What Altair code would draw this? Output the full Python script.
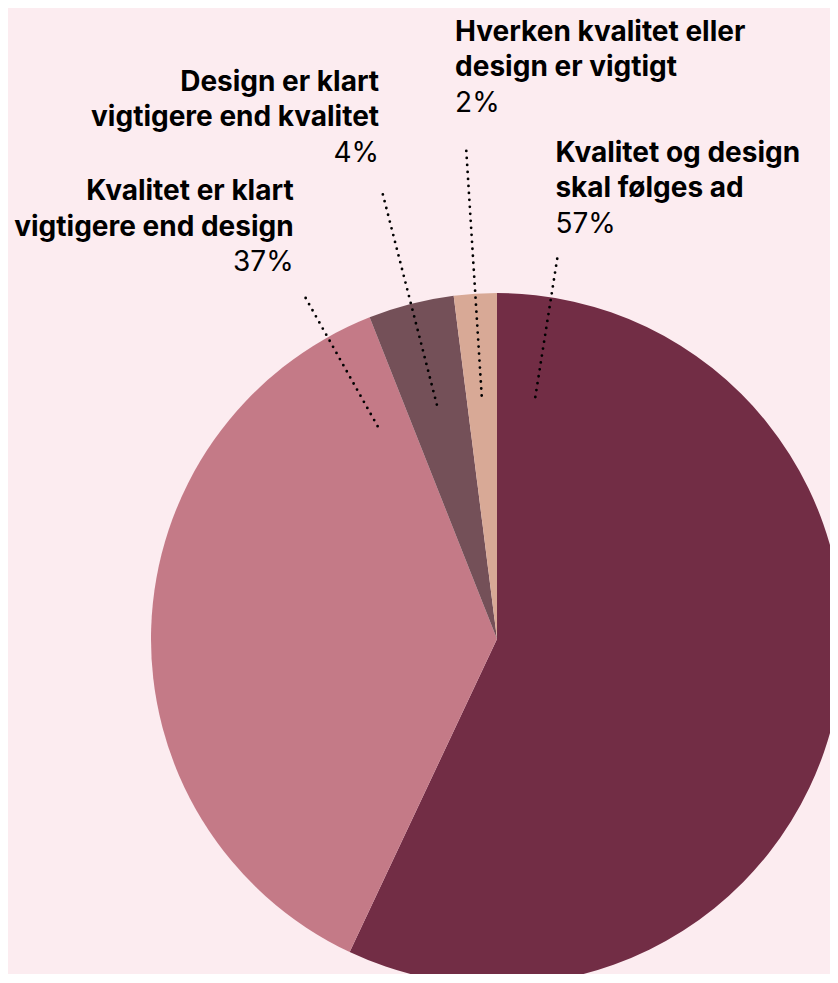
import math
import altair as alt
import pandas as pd

# ---- data ----
categories = [
    "Kvalitet og design\nskal følges ad",
    "Kvalitet er klart\nvigtigere end design",
    "Design er klart\nvigtigere end kvalitet",
    "Hverken kvalitet eller\ndesign er vigtigt",
]
shares = [57, 37, 4, 2]
colors = ["#722D45", "#C47A87", "#745058", "#D8A996"]

# ---- layout ----
W, H = 822, 966
CX, CY, R = 489, 631, 346
# leader: angle (deg clockwise from top), inner radius, outer radius
leader_angle = [9.0, 330.7, 345.6, 356.4]
leader_rin = [245, 244, 242, 244]
leader_rout = [386, 393, 462, 492]
# label anchor offset from leader outer end (dx, dy to first baseline), alignment
label_dx = [-2, -11, -3, -11]
label_dy = [-96, -96, -101, -107]
label_align = ["left", "right", "right", "left"]
LINE_H = 35.5
FONT = "Inter"
FS = 28

pie = pd.DataFrame({"cat": categories, "share": shares, "order": list(range(4))})

rows = []
for i, c in enumerate(categories):
    a = math.radians(leader_angle[i])
    x1 = CX + leader_rin[i] * math.sin(a)
    y1 = CY - leader_rin[i] * math.cos(a)
    x2 = CX + leader_rout[i] * math.sin(a)
    y2 = CY - leader_rout[i] * math.cos(a)
    lx = x2 + label_dx[i]
    ly = y2 + label_dy[i]
    rows.append(dict(cat=c, pct=f"{shares[i]}%", x1=x1, y1=y1, x2=x2, y2=y2,
                     lx=lx, ly=ly, py=ly + 2 * LINE_H, align=label_align[i]))
ann = pd.DataFrame(rows)

xs = alt.Scale(domain=[0, W], nice=False, zero=False)
ys = alt.Scale(domain=[0, H], nice=False, zero=False, reverse=True)

arc = alt.Chart(pie).mark_arc(radius=R, stroke=None).encode(
    theta=alt.Theta("share:Q", stack=True),
    order=alt.Order("order:Q"),
    color=alt.Color("cat:N", scale=alt.Scale(domain=categories, range=colors), legend=None),
    x=alt.value(CX),
    y=alt.value(CY),
)

leaders = alt.Chart(ann).mark_rule(
    color="#000000", strokeWidth=2.8, strokeDash=[0, 7], strokeCap="round"
).encode(
    x=alt.X("x1:Q", scale=xs, axis=None),
    y=alt.Y("y1:Q", scale=ys, axis=None),
    x2="x2:Q",
    y2="y2:Q",
)

layers = [arc, leaders]
for al in ["left", "right"]:
    sub = ann[ann["align"] == al]
    names = alt.Chart(sub).mark_text(
        align=al, baseline="alphabetic", font=FONT, fontSize=FS, fontWeight="bold",
        lineBreak="\n", lineHeight=LINE_H, color="#000000",
    ).encode(
        x=alt.X("lx:Q", scale=xs, axis=None),
        y=alt.Y("ly:Q", scale=ys, axis=None),
        text="cat:N",
    )
    pcts = alt.Chart(sub).mark_text(
        align=al, baseline="alphabetic", font=FONT, fontSize=FS, fontWeight="normal",
        color="#000000",
    ).encode(
        x=alt.X("lx:Q", scale=xs, axis=None),
        y=alt.Y("py:Q", scale=ys, axis=None),
        text="pct:N",
    )
    layers += [names, pcts]

chart = alt.layer(*layers).properties(
    width=W, height=H, padding=0, autosize=alt.AutoSizeParams(type="none"),
    background="#FCECF0",
).configure_view(stroke=None)

chart.save("out.html", embed_options={"renderer": "svg", "actions": False})
